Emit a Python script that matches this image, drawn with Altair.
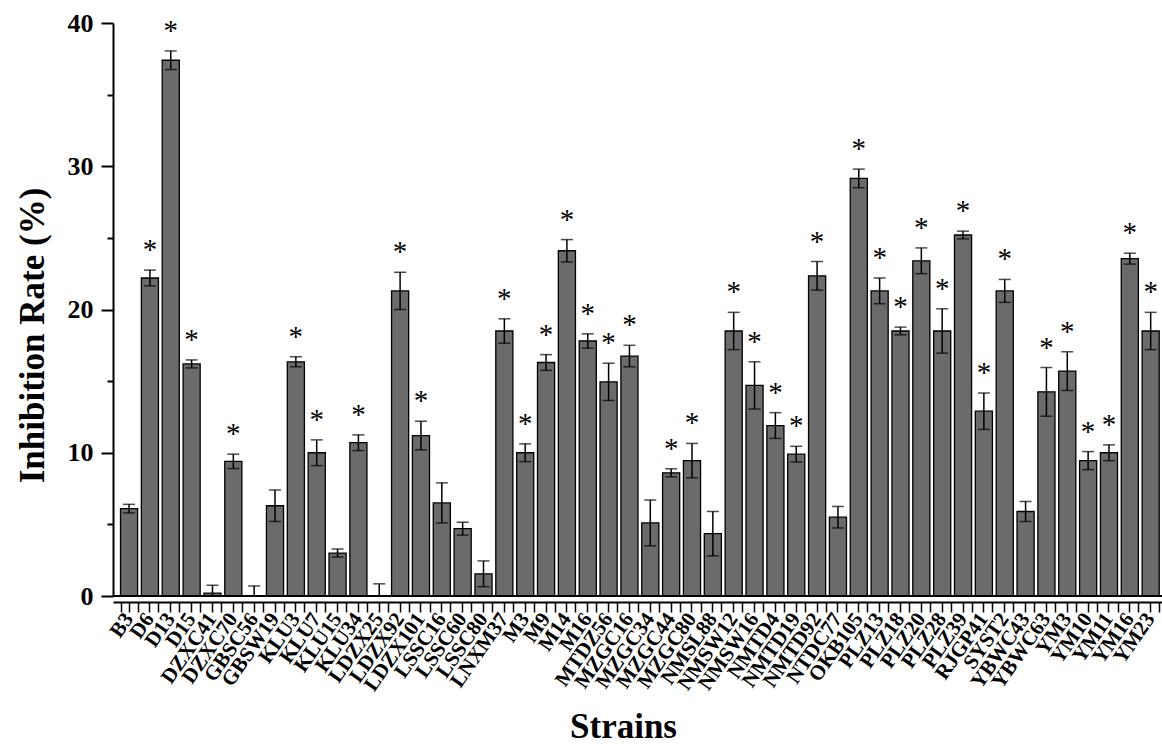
import altair as alt
import pandas as pd

strains = ["B3", "D6", "D13", "D15", "DZXC41", "DZXC70", "GBSC56", "GBSW19", "KLU3", "KLU7",
           "KLU15", "KLU34", "LDZX25", "LDZX92", "LDZX101", "LSSC16", "LSSC60", "LSSC80", "LNXM37", "M3",
           "M9", "M14", "M16", "MTDZ56", "MZGC16", "MZGC34", "MZGC44", "MZGC80", "NMSL88", "NMSW12",
           "NMSW16", "NMTD4", "NMTD19", "NMTD92", "NTDC77", "OKB105", "PLZ13", "PLZ18", "PLZ20", "PLZ28",
           "PLZ39", "RJGP41", "SYST2", "YBWC43", "YBWC63", "YM3", "YM10", "YM11", "YM16", "YM23"]

values = [6.1, 22.2, 37.4, 16.2, 0.2, 9.4, 0.0, 6.3, 16.35, 10.0,
          3.0, 10.7, 0.0, 21.3, 11.2, 6.5, 4.7, 1.55, 18.5, 10.0,
          16.3, 24.1, 17.8, 14.95, 16.75, 5.1, 8.6, 9.45, 4.35, 18.5,
          14.7, 11.9, 9.9, 22.35, 5.5, 29.15, 21.3, 18.5, 23.4, 18.5,
          25.2, 12.9, 21.3, 5.9, 14.25, 15.7, 9.45, 10.0, 23.55, 18.5]

errors = [0.3, 0.55, 0.65, 0.28, 0.55, 0.5, 0.7, 1.1, 0.35, 0.9,
          0.28, 0.55, 0.85, 1.3, 1.0, 1.4, 0.45, 0.9, 0.85, 0.62,
          0.55, 0.78, 0.5, 1.3, 0.75, 1.6, 0.28, 1.2, 1.55, 1.3,
          1.65, 0.9, 0.55, 1.0, 0.75, 0.65, 0.9, 0.27, 0.9, 1.55,
          0.27, 1.27, 0.8, 0.7, 1.7, 1.35, 0.63, 0.55, 0.38, 1.3]

significant = [0, 1, 1, 1, 0, 1, 0, 0, 1, 1,
               0, 1, 0, 1, 1, 0, 0, 0, 1, 1,
               1, 1, 1, 1, 1, 0, 1, 1, 0, 1,
               1, 1, 1, 1, 0, 1, 1, 1, 1, 1,
               1, 1, 1, 0, 1, 1, 1, 1, 1, 1]

df = pd.DataFrame({"strain": strains, "value": values, "err": errors, "sig": significant})
df["lo"] = (df["value"] - df["err"]).clip(lower=0)
df["hi"] = df["value"] + df["err"]
df["star"] = ["*" if s else "" for s in significant]

FONT = "Liberation Serif"
W, H = 1049, 573

xscale = alt.Scale(paddingInner=0.18, paddingOuter=0.247, align=0.73)
yscale = alt.Scale(domain=[0, 40], nice=False, zero=True)

x_main = alt.X(
    "strain:N", sort=strains, scale=xscale, title="Strains",
    axis=alt.Axis(
        orient="bottom", offset=6, labelAngle=-55, labelAlign="right", labelBaseline="middle",
        labelFont=FONT, labelFontWeight="bold", labelFontSize=21, labelColor="black",
        labelPadding=3, tickSize=10, tickWidth=1.5, tickColor="black",
        domainColor="black", domainWidth=2, grid=False,
        titleFont=FONT, titleFontSize=35, titleFontWeight="bold", titleColor="black",
        titleX=510, titleY=135, titleBaseline="alphabetic", titleAlign="center",
        labelOverlap=False,
    ),
)
x_minor = alt.X(
    "strain:N", sort=strains, scale=xscale, title=None,
    axis=alt.Axis(
        orient="bottom", offset=6, labels=False, domain=False, tickBand="extent",
        tickSize=10, tickWidth=1.5, tickColor="black", grid=False,
    ),
)
x_plain = alt.X("strain:N", sort=strains, scale=xscale, axis=None)

y_main = alt.Y(
    "value:Q", scale=yscale, title="Inhibition Rate (%)",
    axis=alt.Axis(
        orient="left", values=[0, 10, 20, 30, 40], tickSize=12, tickWidth=2, tickColor="black",
        domainColor="black", domainWidth=2, grid=False,
        labelFont=FONT, labelFontWeight="bold", labelFontSize=26, labelColor="black", labelPadding=8,
        titleFont=FONT, titleFontSize=35, titleFontWeight="bold", titleColor="black",
        titleX=-70, titleY=312, titleAngle=-90, titleBaseline="alphabetic", titleAlign="center",
    ),
)
y_minor_axis = alt.Axis(
    orient="left", values=[5, 15, 25, 35], tickSize=6, tickWidth=2, tickColor="black",
    labels=False, domain=False, grid=False, title=None,
)

base = alt.Chart(df)

bars = base.mark_bar(color="#6b6b6b", stroke="black", strokeWidth=1.3).encode(
    x=x_main, y=y_main
)

rules = base.mark_rule(color="black", strokeWidth=1.5).encode(
    x=x_minor,
    y=alt.Y("lo:Q", scale=yscale, axis=y_minor_axis),
    y2="hi:Q",
)

cap_hi = base.mark_tick(color="black", size=12, thickness=1.5).encode(
    x=x_plain,
    y=alt.Y("hi:Q", scale=yscale, axis=None),
)
cap_lo = base.mark_tick(color="black", size=12, thickness=1.5).encode(
    x=x_plain,
    y=alt.Y("lo:Q", scale=yscale, axis=None),
)

stars = base.mark_text(font=FONT, fontSize=29, color="black", baseline="alphabetic", dy=-11).encode(
    x=x_plain,
    y=alt.Y("hi:Q", scale=yscale, axis=None),
    text="star:N",
)

zero = alt.Chart(pd.DataFrame({"z": [0]})).mark_rule(color="black", strokeWidth=2).encode(
    y=alt.Y("z:Q", scale=yscale, axis=None),
    x=alt.value(0), x2=alt.value(W),
)

chart = (
    alt.layer(bars, rules, cap_hi, cap_lo, stars, zero)
    .resolve_axis(x="independent", y="independent")
    .properties(
        width=W, height=H,
        autosize=alt.AutoSizeParams(type="none"),
        padding={"left": 113, "top": 23, "right": 0, "bottom": 151},
        background="white",
    )
    .configure_view(stroke=None)
)

chart.save("out.html", embed_options={"renderer": "svg", "actions": False})
